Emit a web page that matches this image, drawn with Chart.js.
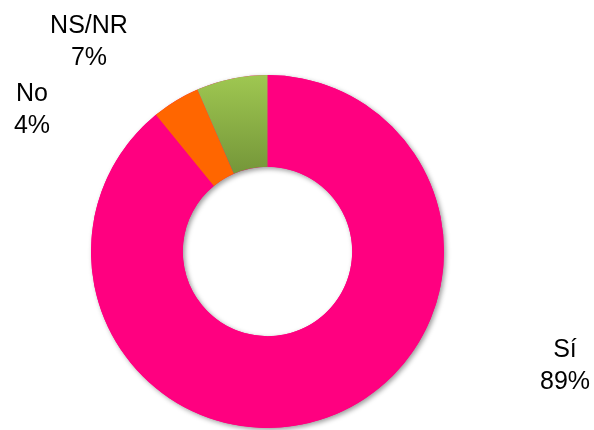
<!DOCTYPE html>
<html>
<head>
<meta charset="utf-8">
<script src="https://cdn.jsdelivr.net/npm/chart.js@4.4.0/dist/chart.umd.min.js"></script>
<style>
  html, body { margin: 0; padding: 0; background: #fff; }
  #wrap { width: 594px; height: 430px; position: relative; }
</style>
</head>
<body>
<div id="wrap"><canvas id="myChart"></canvas></div>
<script>
var categories = ["Sí", "No", "NS/NR"];
var values = [89.1, 4.4, 6.5];
var pctLabels = ["89%", "4%", "7%"];

// posiciones de las etiquetas (centro de cada bloque de texto)
var labelPos = [
    { x: 565, y: 350 },
    { x: 32, y: 94 },
    { x: 89, y: 26 }
];

function sliceFill(context) {
    var i = context.dataIndex;
    if (i === 0) return '#ff0080';
    if (i === 1) return '#ff6600';
    var chart = context.chart;
    var area = chart.chartArea;
    if (!area) return '#8ab046';
    var g = chart.ctx.createLinearGradient(0, area.top, 0, area.top + 95);
    g.addColorStop(0, '#9fc751');
    g.addColorStop(1, '#76983a');
    return g;
}

// sombra suave del anillo completo, dibujada antes de los sectores
var ringShadow = {
    id: 'ringShadow',
    beforeDatasetDraw: function (chart) {
        var arc = chart.getDatasetMeta(0).data[0];
        if (!arc) return;
        var ctx = chart.ctx;
        ctx.save();
        ctx.shadowColor = 'rgba(0,0,0,0.4)';
        ctx.shadowBlur = 5;
        ctx.shadowOffsetX = 2;
        ctx.shadowOffsetY = 2;
        ctx.fillStyle = '#ff0080';
        ctx.beginPath();
        ctx.arc(arc.x, arc.y, arc.outerRadius, 0, Math.PI * 2);
        ctx.arc(arc.x, arc.y, arc.innerRadius, 0, Math.PI * 2, true);
        ctx.closePath();
        ctx.fill();
        ctx.restore();
    }
};

var outsideLabels = {
    id: 'outsideLabels',
    afterDraw: function (chart) {
        var ctx = chart.ctx;
        ctx.save();
        ctx.fillStyle = '#000';
        ctx.font = '25px "Liberation Sans", Arial, sans-serif';
        ctx.textAlign = 'center';
        ctx.textBaseline = 'middle';
        categories.forEach(function (c, i) {
            var p = labelPos[i];
            ctx.fillText(c, p.x, p.y);
            ctx.fillText(pctLabels[i], p.x, p.y + 32);
        });
        ctx.restore();
    }
};

new Chart("myChart", {
    type: "doughnut",
    data: {
        labels: categories,
        datasets: [{
            data: values,
            backgroundColor: sliceFill,
            borderWidth: 0,
            hoverOffset: 0
        }]
    },
    options: {
        responsive: true,
        maintainAspectRatio: false,
        animation: false,
        cutout: '48%',
        rotation: 0,
        layout: {
            padding: { left: 91, right: 150, top: 75, bottom: 2 }
        },
        plugins: {
            legend: { display: false },
            tooltip: { enabled: false }
        }
    },
    plugins: [ringShadow, outsideLabels]
});
</script>
</body>
</html>
